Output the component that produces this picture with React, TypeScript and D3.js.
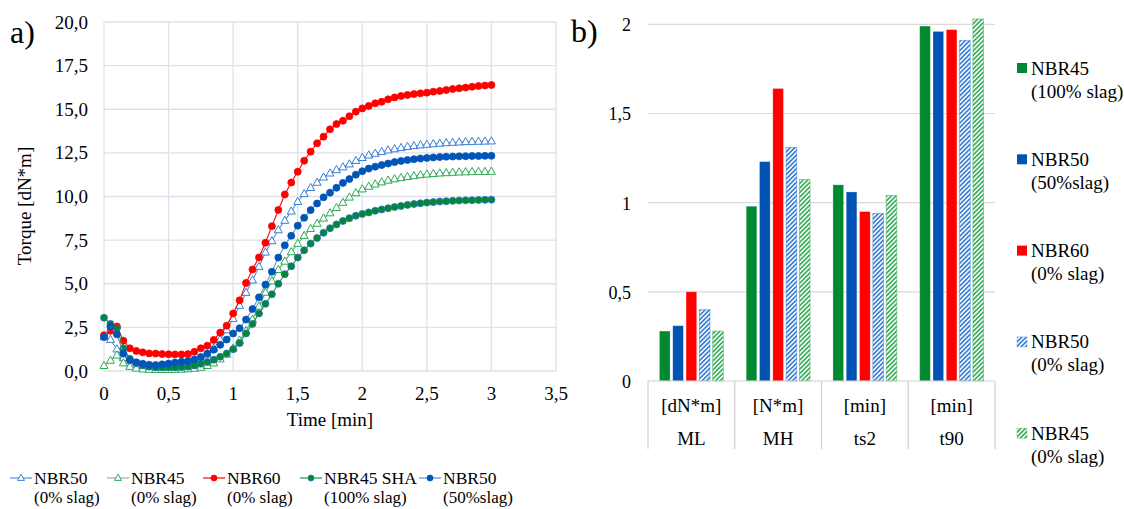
import React from "react";
import * as d3 from "d3";

// ---- Panel a) rheometer curves ----
const TIME = [
  0, 0.05, 0.1, 0.15, 0.2, 0.25, 0.3, 0.35, 0.4, 0.45, 0.5, 0.55, 0.6, 0.65, 0.7, 0.75, 0.8, 0.85, 0.9, 0.95,
  1.0, 1.05, 1.1, 1.15, 1.2, 1.25, 1.3, 1.35, 1.4, 1.45, 1.5, 1.55, 1.6, 1.65, 1.7, 1.75, 1.8, 1.85, 1.9, 1.95,
  2.0, 2.05, 2.1, 2.15, 2.2, 2.25, 2.3, 2.35, 2.4, 2.45, 2.5, 2.55, 2.6, 2.65, 2.7, 2.75, 2.8, 2.85, 2.9, 2.95, 3.0,
];

const NBR50_0 = [
  1.95, 1.8, 1.25, 0.75, 0.45, 0.35, 0.3, 0.27, 0.26, 0.27, 0.3, 0.33, 0.38, 0.44, 0.52, 0.65, 0.95, 1.3, 1.8, 2.35,
  3.0, 3.75, 4.49, 5.2, 5.98, 6.8, 7.45, 8.08, 8.62, 9.15, 9.7, 10.15, 10.5, 10.8, 11.1, 11.33, 11.52, 11.68, 11.85, 12.05,
  12.22, 12.36, 12.46, 12.56, 12.65, 12.72, 12.79, 12.85, 12.9, 12.94, 12.98, 13.01, 13.04, 13.07, 13.09, 13.11, 13.13, 13.14, 13.15, 13.16, 13.17,
];
const NBR45_0 = [
  0.3, 0.6, 0.9, 0.45, 0.25, 0.15, 0.1, 0.08, 0.07, 0.07, 0.07, 0.08, 0.09, 0.11, 0.14, 0.2, 0.3, 0.45, 0.68, 0.95,
  1.3, 1.75, 2.3, 2.95, 3.7, 4.5, 5.15, 5.8, 6.28, 6.82, 7.3, 7.75, 8.15, 8.45, 8.75, 9.05, 9.35, 9.65, 9.95, 10.2,
  10.42, 10.57, 10.7, 10.82, 10.92, 11.0, 11.07, 11.13, 11.18, 11.23, 11.27, 11.3, 11.33, 11.35, 11.37, 11.39, 11.4, 11.41, 11.42, 11.42, 11.43,
];
const NBR60_0 = [
  2.05, 2.3, 2.55, 1.74, 1.3, 1.15, 1.07, 1.01, 1.0, 0.97, 0.96, 0.95, 0.95, 0.97, 1.1, 1.3, 1.45, 1.78, 2.2, 2.6,
  3.3, 4.05, 5.05, 5.82, 6.51, 7.35, 8.3, 9.23, 10.12, 10.8, 11.42, 12.05, 12.57, 13.05, 13.43, 13.85, 14.15, 14.34, 14.6, 14.86,
  15.05, 15.19, 15.34, 15.43, 15.57, 15.68, 15.76, 15.82, 15.87, 15.91, 15.95, 16.01, 16.05, 16.1, 16.16, 16.2, 16.24, 16.29, 16.33, 16.36, 16.39,
];
const NBR45_SHA = [
  3.05, 2.7, 2.45, 1.3, 0.7, 0.45, 0.32, 0.25, 0.2, 0.2, 0.2, 0.2, 0.22, 0.25, 0.32, 0.42, 0.52, 0.65, 0.82, 1.0,
  1.25, 1.6, 2.15, 2.7, 3.3, 3.85, 4.4, 5.0, 5.55, 6.0, 6.5, 6.92, 7.3, 7.62, 7.92, 8.18, 8.4, 8.6, 8.76, 8.9,
  9.0, 9.09, 9.18, 9.26, 9.33, 9.4, 9.46, 9.52, 9.57, 9.61, 9.65, 9.68, 9.71, 9.73, 9.75, 9.77, 9.78, 9.79, 9.8, 9.81, 9.82,
];
const NBR50_50 = [
  1.95, 2.55, 2.1, 1.0, 0.62, 0.5, 0.42, 0.36, 0.34, 0.38, 0.43, 0.48, 0.53, 0.58, 0.66, 0.8, 1.0, 1.22, 1.5, 1.8,
  2.15, 2.45, 2.95, 3.55, 4.22, 4.95, 5.69, 6.5, 7.2, 7.75, 8.33, 8.78, 9.22, 9.6, 9.95, 10.22, 10.5, 10.78, 11.0, 11.25,
  11.45, 11.6, 11.71, 11.8, 11.89, 11.97, 12.04, 12.09, 12.14, 12.18, 12.21, 12.24, 12.26, 12.28, 12.29, 12.3, 12.31, 12.32, 12.32, 12.33, 12.33,
];

const X_TICKS = [0, 0.5, 1, 1.5, 2, 2.5, 3, 3.5];
const Y_TICKS = [0, 2.5, 5, 7.5, 10, 12.5, 15, 17.5, 20];

type Curve = {
  name: string;
  sub: string;
  values: number[];
  marker: "tri" | "dot";
  color: string;
  stroke: string;
  line: string;
  legendLine: string;
};

const CURVES: Curve[] = [
  { name: "NBR50", sub: "(0% slag)", values: NBR50_0, marker: "tri", color: "#ffffff", stroke: "#3b7fd4", line: "#5b95dc", legendLine: "#5b95dc" },
  { name: "NBR45", sub: "(0% slag)", values: NBR45_0, marker: "tri", color: "#ffffff", stroke: "#2eaa55", line: "#4cb86c", legendLine: "#a8a8a8" },
  { name: "NBR60", sub: "(0% slag)", values: NBR60_0, marker: "dot", color: "#ff0000", stroke: "#ff0000", line: "#ff0000", legendLine: "#ff0000" },
  { name: "NBR45 SHA", sub: "(100% slag)", values: NBR45_SHA, marker: "dot", color: "#00892f", stroke: "#2f6fc6", line: "#1f9a45", legendLine: "#1f9a45" },
  { name: "NBR50", sub: "(50%slag)", values: NBR50_50, marker: "dot", color: "#0055b8", stroke: "#0055b8", line: "#5b95dc", legendLine: "#5b95dc" },
];

// ---- Panel b) cure parameters ----
const PARAMS = ["ML", "MH", "ts2", "t90"];
const UNITS = ["[dN*m]", "[N*m]", "[min]", "[min]"];
const B_NBR45_100 = [0.28, 0.98, 1.1, 1.99];
const B_NBR50_50 = [0.31, 1.23, 1.06, 1.96];
const B_NBR60_0 = [0.5, 1.64, 0.95, 1.97];
const B_NBR50_0 = [0.4, 1.31, 0.94, 1.91];
const B_NBR45_0 = [0.28, 1.13, 1.04, 2.03];
const B_TICKS = [0, 0.5, 1, 1.5, 2];

type BarSeries = { name: string; sub: string; values: number[]; fill: string; color: string; hatch: boolean };
const BAR_SERIES: BarSeries[] = [
  { name: "NBR45", sub: "(100% slag)", values: B_NBR45_100, fill: "#00892f", color: "#00892f", hatch: false },
  { name: "NBR50", sub: "(50%slag)", values: B_NBR50_50, fill: "#0053b3", color: "#0053b3", hatch: false },
  { name: "NBR60", sub: "(0% slag)", values: B_NBR60_0, fill: "#ff0000", color: "#ff0000", hatch: false },
  { name: "NBR50", sub: "(0% slag)", values: B_NBR50_0, fill: "url(#hatchBlue)", color: "#3b7fd4", hatch: true },
  { name: "NBR45", sub: "(0% slag)", values: B_NBR45_0, fill: "url(#hatchGreen)", color: "#3aae5c", hatch: true },
];

const FONT = "'Liberation Serif', 'Times New Roman', serif";
const comma = (v: number, f: string) => d3.format(f)(v).replace(".", ",");

function Marker({ kind, x, y, c, s, size }: { kind: string; x: number; y: number; c: string; s: string; size: number }) {
  if (kind === "tri") {
    const h = size * 0.9;
    const p = `M${x},${y - h * 0.62} L${x + size / 2},${y + h * 0.38} L${x - size / 2},${y + h * 0.38} Z`;
    return <path d={p} fill={c} stroke={s} strokeWidth={1} />;
  }
  return <circle cx={x} cy={y} r={size / 2} fill={c} stroke={s} strokeWidth={0.8} />;
}

export default function App() {
  // panel a scales
  const xA = d3.scaleLinear().domain([0, 3.5]).range([104, 556]);
  const yA = d3.scaleLinear().domain([0, 20]).range([371, 22]);
  const lineGen = d3
    .line<number>()
    .x((_, i) => xA(TIME[i]))
    .y((v) => yA(v));

  // panel b scales
  const xB = d3.scaleBand<string>().domain(PARAMS).range([648, 995]).padding(0);
  const xInner = d3
    .scaleBand<number>()
    .domain(BAR_SERIES.map((_, i) => i))
    .range([0, xB.bandwidth()])
    .paddingInner(0.2)
    .paddingOuter(0.86);
  const yB = d3.scaleLinear().domain([0, 2]).range([381, 24.3]);

  const legendXs = [10, 107, 203, 300, 419];
  const gridCol = "#dde1ea";

  return (
    <svg
      width={1124}
      height={509}
      style={{ position: "absolute", left: 0, top: 0, background: "#fff", fontFamily: FONT }}
      fontFamily={FONT}
    >
      <defs>
        <pattern id="hatchBlue" width="3.2" height="3.2" patternUnits="userSpaceOnUse" patternTransform="rotate(45)">
          <rect width="3.2" height="3.2" fill="#ffffff" />
          <rect width="1.7" height="3.2" fill="#3b7fd4" />
        </pattern>
        <pattern id="hatchGreen" width="3.2" height="3.2" patternUnits="userSpaceOnUse" patternTransform="rotate(45)">
          <rect width="3.2" height="3.2" fill="#ffffff" />
          <rect width="1.7" height="3.2" fill="#3aae5c" />
        </pattern>
      </defs>

      {/* ===== a) ===== */}
      <text x={10} y={43} fontSize={32}>a)</text>
      {Y_TICKS.map((t) => (
        <g key={"ya" + t}>
          <line x1={xA(0)} x2={xA(3.5)} y1={yA(t)} y2={yA(t)} stroke={gridCol} strokeWidth={1.3} />
          <text x={88} y={yA(t)} textAnchor="end" dominantBaseline="central" fontSize={19}>
            {comma(t, ".1f")}
          </text>
        </g>
      ))}
      {X_TICKS.map((t) => (
        <g key={"xa" + t}>
          <line x1={xA(t)} x2={xA(t)} y1={yA(0)} y2={yA(20)} stroke={gridCol} strokeWidth={1.3} />
          <text x={xA(t)} y={393} textAnchor="middle" dominantBaseline="central" fontSize={19}>
            {comma(t, "~g")}
          </text>
        </g>
      ))}
      <text x={330} y={419} textAnchor="middle" dominantBaseline="central" fontSize={19}>
        Time [min]
      </text>
      <text transform={`translate(24,206) rotate(-90)`} textAnchor="middle" dominantBaseline="central" fontSize={19}>
        Torque [dN*m]
      </text>

      {CURVES.map((c, ci) => (
        <g key={"c" + ci}>
          <path d={lineGen(c.values) ?? ""} fill="none" stroke={c.line} strokeWidth={1.1} />
          {c.values.map((v, i) => (
            <Marker key={i} kind={c.marker} x={xA(TIME[i])} y={yA(v)} c={c.color} s={c.stroke} size={c.marker === "tri" ? 8 : 7} />
          ))}
        </g>
      ))}

      {/* legend a */}
      {CURVES.map((c, ci) => {
        const lx = legendXs[ci];
        return (
          <g key={"la" + ci}>
            <line x1={lx} x2={lx + 22} y1={478} y2={478} stroke={c.legendLine} strokeWidth={1.2} />
            <Marker kind={c.marker} x={lx + 11} y={478} c={c.color} s={c.stroke} size={c.marker === "tri" ? 7 : 6} />
            <text x={lx + 24} y={478} dominantBaseline="central" fontSize={17.5}>
              {c.name}
            </text>
            <text x={lx + 24} y={497} dominantBaseline="central" fontSize={17}>
              {c.sub}
            </text>
          </g>
        );
      })}

      {/* ===== b) ===== */}
      <text x={571} y={42} fontSize={32}>b)</text>
      {B_TICKS.map((t) => (
        <g key={"yb" + t}>
          {t > 0 && <line x1={648} x2={995} y1={yB(t)} y2={yB(t)} stroke="#d9d9d9" strokeWidth={1.2} />}
          <text x={631} y={yB(t) + 1} textAnchor="end" dominantBaseline="central" fontSize={18}>
            {comma(t, "~g")}
          </text>
        </g>
      ))}

      {PARAMS.map((p, pi) => (
        <g key={"g" + p}>
          {BAR_SERIES.map((s, si) => {
            const x0 = (xB(p) ?? 0) + (xInner(si) ?? 0);
            const v = s.values[pi];
            return (
              <rect
                key={si}
                x={x0}
                y={yB(v)}
                width={xInner.bandwidth()}
                height={yB(0) - yB(v)}
                fill={s.fill}
                stroke={s.hatch ? s.color : "#ffffff"}
                strokeOpacity={s.hatch ? 0.6 : 0.35}
                strokeWidth={0.8}
              />
            );
          })}
          <text x={(xB(p) ?? 0) + xB.bandwidth() / 2} y={405} textAnchor="middle" dominantBaseline="central" fontSize={19}>
            {UNITS[pi]}
          </text>
          <text x={(xB(p) ?? 0) + xB.bandwidth() / 2} y={438} textAnchor="middle" dominantBaseline="central" fontSize={19}>
            {p}
          </text>
        </g>
      ))}
      <line x1={648} x2={995} y1={yB(0)} y2={yB(0)} stroke="#d0d0d0" strokeWidth={1.2} />
      {[...PARAMS.map((p) => xB(p) ?? 0), 995].map((x, i) => (
        <line key={"sep" + i} x1={x} x2={x} y1={yB(0)} y2={449} stroke="#d0d0d0" strokeWidth={1.2} />
      ))}

      {/* legend b */}
      {BAR_SERIES.map((s, si) => {
        const cy = 68 + si * 91.3;
        return (
          <g key={"lb" + si}>
            <rect x={1017} y={cy - 5} width={10} height={10} fill={s.fill} stroke={s.hatch ? s.color : "none"} strokeOpacity={0.5} strokeWidth={0.6} />
            <text x={1031} y={cy} dominantBaseline="central" fontSize={19}>
              {s.name}
            </text>
            <text x={1031} y={cy + 23} dominantBaseline="central" fontSize={19}>
              {s.sub}
            </text>
          </g>
        );
      })}
    </svg>
  );
}
